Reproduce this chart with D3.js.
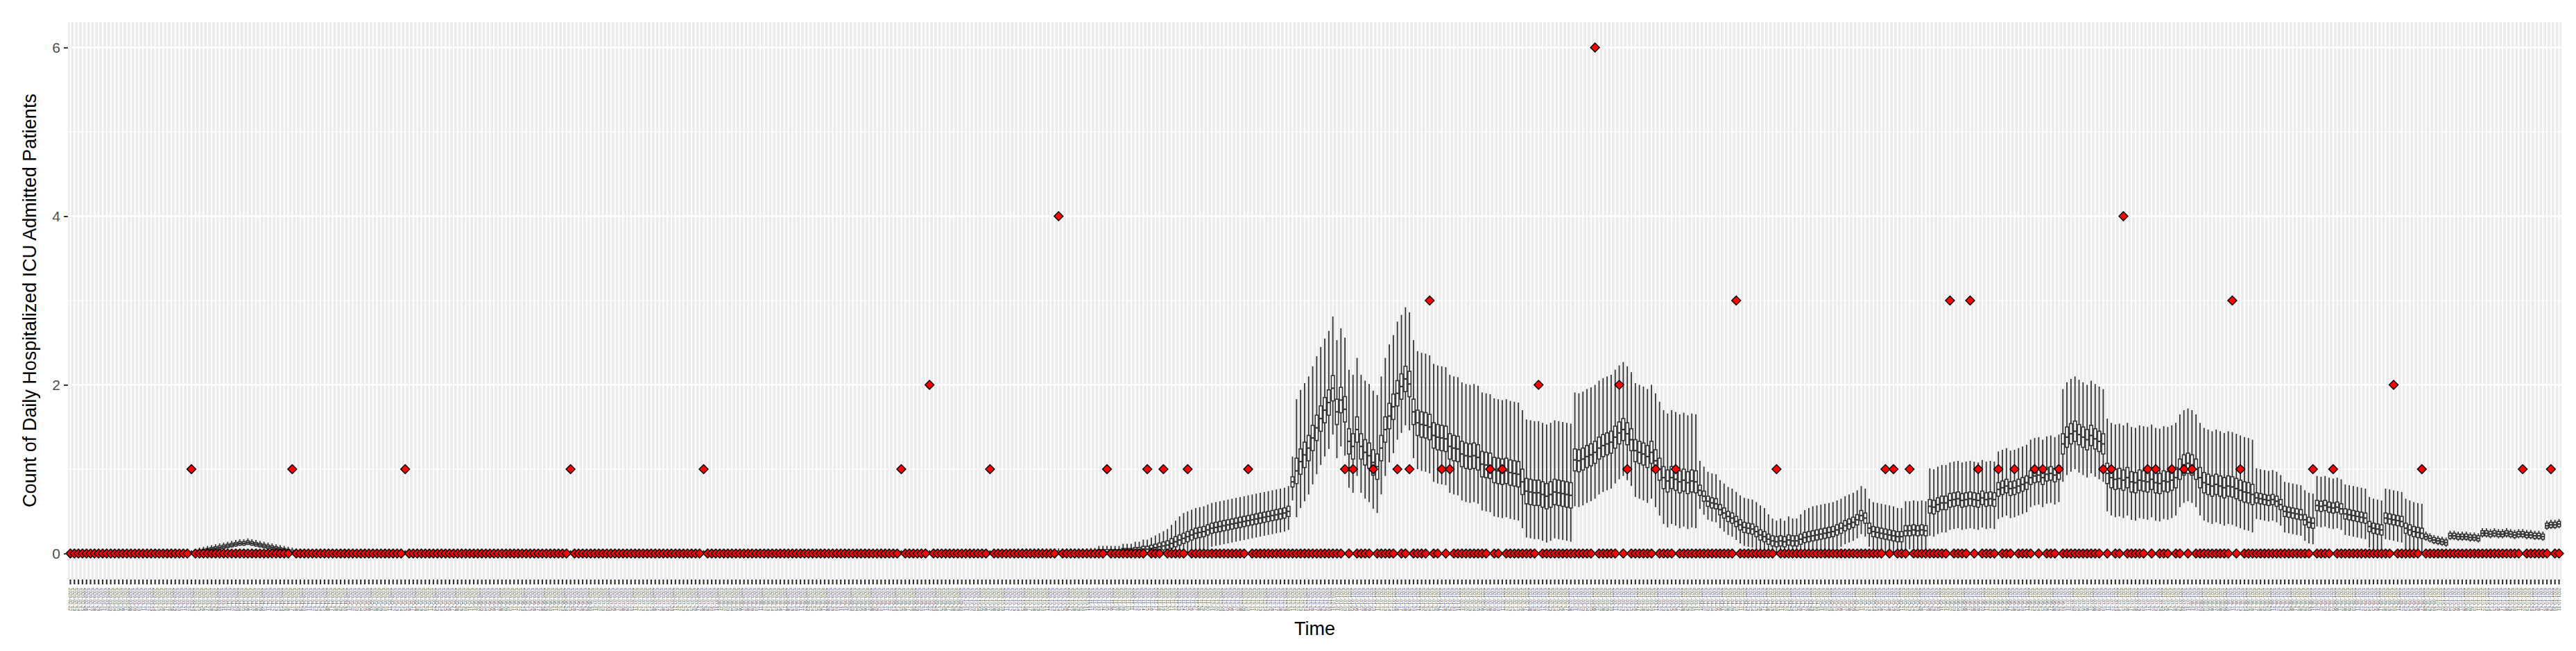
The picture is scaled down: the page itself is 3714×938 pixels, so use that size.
<!DOCTYPE html>
<html><head><meta charset="utf-8">
<script src="https://cdn.jsdelivr.net/npm/d3@7"></script>
<style>body{margin:0;background:#fff}</style></head>
<body><svg id="c" width="3714" height="938"></svg>
<script>
// ---- data ----
const startDate = "2020-02-22", endDate = "2021-10-31";
const yTicks = [0, 2, 4, 6];
const bumpStart = 32;
const bumpMed = [0.02,0.03,0.04,0.05,0.06,0.07,0.08,0.09,0.10,0.11,0.12,0.12,0.13,0.12,0.11,0.10,0.09,0.08,0.07,0.06,0.05,0.04,0.03,0.02,0.01];
const lowStart = 235;
const lowMed = [0.01,0.01,0.01,0.01,0.01,0.01,0.01,0.01,0.01,0.01,0.01,0.01,0.01,0.01,0.01,0.01,0.01,0.01];
const activeStart = 253;
const activeMed = [
0.01,0.01,0.02,0.02,0.02,0.02,0.02,0.02,0.03,0.03,0.03,
0.04,0.04,0.05,0.05,0.06,0.07,0.08,0.09,0.10,0.12,0.14,0.16,
0.18,0.20,0.22,0.24,0.25,0.26,0.28,0.30,0.31,0.32,0.33,0.34,0.35,0.36,0.37,0.38,
0.39,0.40,0.41,0.42,0.43,0.44,0.45,0.46,0.47,0.48,0.50,0.85,
0.98,1.09,1.17,1.25,1.37,1.49,1.6,1.7,1.79,1.96,
1.68,1.82,1.71,1.33,1.27,1.47,1.27,1.2,1.16,1.08,
1.03,1.25,1.47,1.63,1.74,1.9,1.98,2.07,2.01,1.68,
1.55,1.53,1.52,1.5,1.4,1.38,1.37,1.36,1.27,1.25,
1.24,1.18,1.16,1.15,1.16,1.14,1.06,1.05,1.04,0.99,
0.98,0.97,0.98,0.96,0.95,0.94,
0.85,0.74,0.73,0.72,0.72,0.7,0.68,0.7,0.73,0.72,0.71,0.7,0.69,
1.11,1.1,1.12,1.15,1.17,1.2,1.25,1.28,1.3,1.32,1.38,1.43,
1.47,1.42,1.35,1.22,1.2,1.18,1.15,1.2,1.1,1.0,0.9,
0.86,0.9,0.88,0.85,0.87,0.84,0.86,0.85,
0.75,0.68,0.62,0.6,0.59,0.52,0.48,0.44,0.42,0.38,0.34,0.31,0.3,
0.29,0.26,0.22,0.2,0.17,0.15,0.14,0.15,0.14,0.16,0.15,0.15,0.17,0.19,0.2,0.21,
0.22,0.23,0.24,0.25,0.26,0.28,0.3,0.33,0.35,0.37,0.4,0.45,0.42,0.3,
0.26,0.25,0.24,0.23,0.22,0.21,0.2,0.2,0.27,0.27,0.28,0.27,0.28,0.27,
0.56,0.55,0.58,0.6,0.6,0.63,0.64,0.65,0.63,0.64,0.65,0.64,0.63,0.66,0.64,0.65,0.64,
0.76,0.78,0.8,0.77,0.78,0.8,0.82,0.84,
0.9,0.92,0.93,0.9,0.94,0.95,0.93,0.96,
1.3,1.38,1.42,1.45,1.41,1.38,1.35,1.4,1.36,1.33,1.3,
0.95,0.9,0.88,0.89,0.87,0.9,
0.85,0.84,0.87,0.86,0.85,0.88,0.84,0.83,0.86,0.85,0.87,0.9,
1.0,1.05,1.07,1.05,1.0,0.9,
0.84,0.82,0.8,0.82,0.8,0.78,0.8,0.79,0.77,0.75,0.73,0.72,0.7,
0.66,0.65,0.64,0.63,0.64,0.62,0.58,
0.5,0.49,0.48,0.47,0.46,0.4,0.37,0.36,
0.57,0.56,0.57,0.55,0.54,0.55,0.53,
0.47,0.46,0.45,0.44,0.43,0.42,
0.32,0.3,0.29,0.28,
0.42,0.41,0.4,0.39,0.38,
0.3,0.28,0.26,0.25,0.24,
0.2,0.18,0.16,0.15,0.14,0.13,
0.21,0.21,0.2,0.2,0.2,0.19,0.19,0.18,
0.24,0.24,0.23,0.24,0.23,0.23,0.24,0.23,0.22,0.23,0.23,0.22,0.22,0.21,0.21,0.2,
0.33,0.34,0.34,0.35];
// [fromDay, toDay, upperWhisker, lowerWhisker, boxHalf]
const spreadSeg = [[0,252,0.05,0.03,0.02],[253,303,0.3,0.22,0.06],[304,372,0.85,0.55,0.15],
 [373,403,0.8,0.55,0.13],[404,460,0.35,0.22,0.06],[461,493,0.45,0.35,0.08],
 [494,541,0.65,0.45,0.12],[542,583,0.35,0.25,0.06],[584,617,0.06,0.05,0.03]];
// observed nonzero counts [day, value]; all other days observed 0
const obsNonZero = [[30,1],[55,1],[83,1],[124,1],[157,1],[206,1],[213,2],[228,1],[245,4],[257,1],[267,1],[271,1],[277,1],[292,1],
 [316,1],[318,1],[323,1],[329,1],[332,1],[337,3],[340,1],[342,1],[352,1],[355,1],[364,2],[378,6],[384,2],[386,1],[393,1],[398,1],
 [413,3],[423,1],[450,1],[452,1],[456,1],[466,3],[471,3],[473,1],[478,1],[482,1],[487,1],[489,1],[493,1],[504,1],[506,1],[509,4],
 [515,1],[517,1],[521,1],[524,1],[526,1],[536,3],[538,1],[556,1],[561,1],[576,2],[583,1],[608,1],[615,1]];

// ---- build ----
const fmt = d3.timeFormat("%Y-%m-%d");
const parse = d3.timeParse("%Y-%m-%d");
const days = d3.timeDay.range(parse(startDate), d3.timeDay.offset(parse(endDate),1)).map(fmt);
const N = days.length;
const med = new Array(N).fill(0);
bumpMed.forEach((v,i)=>med[bumpStart+i]=v);
lowMed.forEach((v,i)=>med[lowStart+i]=v);
activeMed.forEach((v,i)=>{ if(activeStart+i<N) med[activeStart+i]=v; });
const obs = new Array(N).fill(0);
obsNonZero.forEach(([d,v])=>obs[d]=v);

const L=98, R=3693, T=32, B=834;
const svg = d3.select("#c");
const x = d3.scaleBand().domain(days).range([L,R]).paddingOuter(0.1).paddingInner(0);
const y = d3.scaleLinear().domain([-0.3,6.3]).range([B,T]);
const bw = x.bandwidth();
const cx = d => x(d)+bw/2;

svg.append("rect").attr("x",L).attr("y",T).attr("width",R-L).attr("height",B-T).attr("fill","#EBEBEB");
const g = svg.append("g");
[1,3,5].forEach(v=>g.append("line").attr("x1",L).attr("x2",R).attr("y1",y(v)).attr("y2",y(v)).attr("stroke","#fff").attr("stroke-width",1.2));
yTicks.forEach(v=>g.append("line").attr("x1",L).attr("x2",R).attr("y1",y(v)).attr("y2",y(v)).attr("stroke","#fff").attr("stroke-width",2.4));
g.selectAll("line.v").data(days).enter().append("line").attr("x1",cx).attr("x2",cx).attr("y1",T).attr("y2",B).attr("stroke","#fff").attr("stroke-width",2);

function sp(i){ for(const s of spreadSeg) if(i>=s[0]&&i<=s[1]) return s; return [0,0,0.05,0.03,0.02]; }
const boxes = days.map((d,i)=>{ const s=sp(i), m=med[i];
  const up=Math.min(s[2],0.04+m*1.5), dn=Math.min(s[3],m), bh=Math.min(s[4],0.02+m*0.3);
  return {d,m,hi:m+up,lo:Math.max(0,m-dn),q3:m+bh,q1:Math.max(0,m-bh)}; });
const bx = g.append("g");
bx.selectAll("line.w").data(boxes).enter().append("line").attr("x1",b=>cx(b.d)).attr("x2",b=>cx(b.d))
  .attr("y1",b=>y(b.hi)).attr("y2",b=>y(b.lo)).attr("stroke","#333").attr("stroke-width",1.8);
const boxW = bw*0.75;
bx.selectAll("rect.b").data(boxes).enter().append("rect").attr("x",b=>cx(b.d)-boxW/2).attr("width",boxW)
  .attr("y",b=>y(b.q3)).attr("height",b=>Math.max(1,y(b.q1)-y(b.q3))).attr("fill","#fff").attr("stroke","#333").attr("stroke-width",1.6);
bx.selectAll("line.m").data(boxes).enter().append("line").attr("x1",b=>cx(b.d)-boxW/2).attr("x2",b=>cx(b.d)+boxW/2)
  .attr("y1",b=>y(b.m)).attr("y2",b=>y(b.m)).attr("stroke","#333").attr("stroke-width",2.2);

const dh=6.5;
g.append("g").selectAll("path").data(days.map((d,i)=>({d,v:obs[i]}))).enter().append("path")
  .attr("d",o=>{const X=cx(o.d),Y=y(o.v);return `M${X},${Y-dh}L${X+dh},${Y}L${X},${Y+dh}L${X-dh},${Y}Z`;})
  .attr("fill","#FF0000").attr("stroke","#000").attr("stroke-width",1.4);

// axes
const ya = svg.append("g").attr("transform",`translate(${L},0)`).call(d3.axisLeft(y).tickValues(yTicks).tickFormat(d3.format("d")).tickSize(6).tickPadding(5));
ya.select(".domain").remove();
ya.selectAll("line").attr("stroke","#333").attr("stroke-width",2);
ya.selectAll("text").attr("font-family","Liberation Sans, Arial").attr("font-size",21).attr("fill","#4D4D4D");
const xa = svg.append("g").attr("transform",`translate(0,${B})`).call(d3.axisBottom(x).tickSize(8).tickPadding(3));
xa.select(".domain").remove();
xa.selectAll("line").attr("stroke","#333").attr("stroke-width",2.2).attr("y1",1);
xa.selectAll("text").attr("font-family","Liberation Sans, Arial").attr("font-size",6.5).attr("fill","#4D4D4D")
  .attr("transform","rotate(90)").attr("text-anchor","start").attr("dy","0.35em").attr("x",13).attr("y",0);

svg.append("text").attr("x",(L+R)/2).attr("y",915).attr("text-anchor","middle").attr("font-family","Liberation Sans, Arial").attr("font-size",27).text("Time");
svg.append("text").attr("transform",`translate(52,${(T+B)/2}) rotate(-90)`).attr("text-anchor","middle").attr("font-family","Liberation Sans, Arial").attr("font-size",27).text("Count of Daily Hospitalized ICU Admitted Patients");
</script></body></html>
